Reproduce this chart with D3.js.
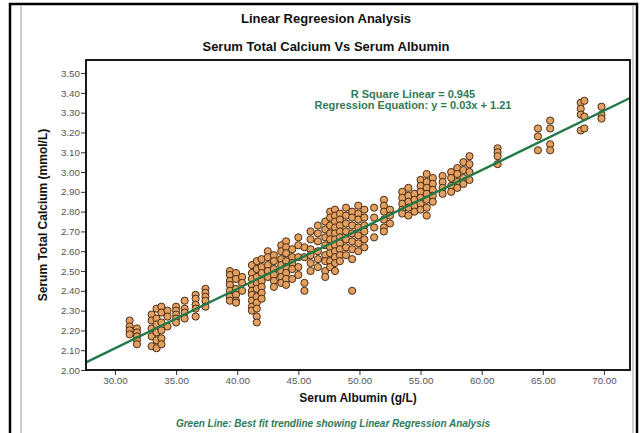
<!DOCTYPE html>
<html>
<head>
<meta charset="utf-8">
<script src="https://cdn.jsdelivr.net/npm/d3@7"></script>
<style>
  body { margin: 0; background: #fff; }
  svg { display: block; font-family: "Liberation Sans", Arial, sans-serif; }
  .title { font-size: 13px; font-weight: bold; fill: #111; }
  .axis-title { font-size: 12px; font-weight: bold; fill: #111; }
  .tick text { font-size: 9.8px; fill: #555; }
  .note { font-size: 11px; font-weight: bold; fill: #2f7a57; }
  .caption { font-size: 10px; font-weight: bold; font-style: italic; fill: #2f7a57; }
</style>
</head>
<body>
<div id="chart"></div>
<script>
// Serum calcium vs albumin scatter with a linear trendline.

const xTicks = [30, 35, 40, 45, 50, 55, 60, 65, 70];
const yTicks = [2.0, 2.1, 2.2, 2.3, 2.4, 2.5, 2.6, 2.7, 2.8, 2.9, 3.0, 3.1, 3.2, 3.3, 3.4, 3.5];

// regression shown on the chart: y = 0.03x + 1.21
const slope = 0.03;
const intercept = 1.21;
const rSquare = 0.945;

// [albumin g/L, calcium mmol/L]
const points = [
  [31.2, 2.25], [31.2, 2.22], [31.2, 2.20], [31.2, 2.18],
  [31.8, 2.21], [31.8, 2.19], [31.8, 2.17], [31.8, 2.15], [31.8, 2.13],
  [33.0, 2.28], [33.0, 2.25], [33.0, 2.21], [33.0, 2.17], [33.0, 2.12],
  [33.4, 2.31], [33.4, 2.26], [33.4, 2.23], [33.4, 2.19], [33.4, 2.15], [33.4, 2.11],
  [33.8, 2.32], [33.8, 2.29], [33.8, 2.24], [33.8, 2.20], [33.8, 2.16], [33.8, 2.13],
  [34.3, 2.30], [34.3, 2.27], [34.3, 2.22],
  [35.0, 2.32], [35.0, 2.30], [35.0, 2.28], [35.0, 2.26], [35.0, 2.24],
  [35.7, 2.35], [35.7, 2.31], [35.7, 2.29], [35.7, 2.26],
  [36.6, 2.38], [36.6, 2.36], [36.6, 2.33], [36.6, 2.31], [36.6, 2.27],
  [37.4, 2.41], [37.4, 2.39], [37.4, 2.37], [37.4, 2.35], [37.4, 2.32],
  [39.4, 2.50], [39.4, 2.48], [39.4, 2.45], [39.4, 2.43], [39.4, 2.40], [39.4, 2.37], [39.4, 2.35],
  [39.9, 2.49], [39.9, 2.46], [39.9, 2.41], [39.9, 2.38], [39.9, 2.35], [39.9, 2.34],
  [40.4, 2.47], [40.4, 2.44], [40.4, 2.40],
  [41.2, 2.53], [41.2, 2.49], [41.2, 2.46], [41.2, 2.43], [41.2, 2.40], [41.2, 2.38], [41.2, 2.35], [41.2, 2.32], [41.2, 2.30],
  [41.6, 2.55], [41.6, 2.51], [41.6, 2.47], [41.6, 2.44], [41.6, 2.41], [41.6, 2.37], [41.6, 2.34], [41.6, 2.31], [41.6, 2.27], [41.6, 2.24],
  [42.0, 2.56], [42.0, 2.52], [42.0, 2.49], [42.0, 2.45], [42.0, 2.42], [42.0, 2.39], [42.0, 2.36],
  [42.5, 2.60], [42.5, 2.57], [42.5, 2.53], [42.5, 2.50], [42.5, 2.47],
  [43.0, 2.58], [43.0, 2.55], [43.0, 2.51], [43.0, 2.48], [43.0, 2.45], [43.0, 2.42],
  [43.6, 2.63], [43.6, 2.60], [43.6, 2.56], [43.6, 2.53], [43.6, 2.50], [43.6, 2.47], [43.6, 2.44],
  [44.0, 2.65], [44.0, 2.62], [44.0, 2.59], [44.0, 2.55], [44.0, 2.52], [44.0, 2.49], [44.0, 2.46], [44.0, 2.43],
  [44.5, 2.61], [44.5, 2.57], [44.5, 2.54], [44.5, 2.51], [44.5, 2.46],
  [45.0, 2.67], [45.0, 2.63], [45.0, 2.57], [45.0, 2.52], [45.0, 2.48],
  [45.5, 2.62], [45.5, 2.57], [45.5, 2.44], [45.5, 2.40],
  [46.0, 2.70], [46.0, 2.66], [46.0, 2.61], [46.0, 2.58], [46.0, 2.54], [46.0, 2.50],
  [46.6, 2.73], [46.6, 2.69], [46.6, 2.65], [46.6, 2.60], [46.6, 2.56], [46.6, 2.52],
  [47.2, 2.75], [47.2, 2.71], [47.2, 2.67], [47.2, 2.63], [47.2, 2.58], [47.2, 2.55], [47.2, 2.50], [47.2, 2.47],
  [47.6, 2.80], [47.6, 2.77], [47.6, 2.73], [47.6, 2.69], [47.6, 2.66], [47.6, 2.62], [47.6, 2.59], [47.6, 2.55], [47.6, 2.52],
  [48.0, 2.81], [48.0, 2.78], [48.0, 2.75], [48.0, 2.72], [48.0, 2.69], [48.0, 2.66], [48.0, 2.63], [48.0, 2.60], [48.0, 2.57], [48.0, 2.54], [48.0, 2.50],
  [48.4, 2.79], [48.4, 2.76], [48.4, 2.73], [48.4, 2.70], [48.4, 2.67], [48.4, 2.64], [48.4, 2.61], [48.4, 2.58], [48.4, 2.55],
  [48.9, 2.82], [48.9, 2.78], [48.9, 2.74], [48.9, 2.70], [48.9, 2.66], [48.9, 2.62], [48.9, 2.58],
  [49.4, 2.80], [49.4, 2.77], [49.4, 2.73], [49.4, 2.69], [49.4, 2.65], [49.4, 2.61], [49.4, 2.56], [49.4, 2.40],
  [49.9, 2.83], [49.9, 2.79], [49.9, 2.76], [49.9, 2.72], [49.9, 2.68], [49.9, 2.64], [49.9, 2.60],
  [50.4, 2.81], [50.4, 2.77], [50.4, 2.73], [50.4, 2.70], [50.4, 2.66], [50.4, 2.62],
  [51.2, 2.82], [51.2, 2.77], [51.2, 2.72], [51.2, 2.67],
  [52.0, 2.86], [52.0, 2.83], [52.0, 2.80], [52.0, 2.76], [52.0, 2.72], [52.0, 2.70],
  [52.5, 2.81], [52.5, 2.78], [52.5, 2.74],
  [53.5, 2.90], [53.5, 2.87], [53.5, 2.84], [53.5, 2.81], [53.5, 2.79],
  [54.0, 2.92], [54.0, 2.88], [54.0, 2.85], [54.0, 2.82], [54.0, 2.78],
  [54.5, 2.89], [54.5, 2.86], [54.5, 2.83], [54.5, 2.80],
  [55.0, 2.96], [55.0, 2.93], [55.0, 2.90], [55.0, 2.87], [55.0, 2.84], [55.0, 2.81],
  [55.5, 2.99], [55.5, 2.95], [55.5, 2.92], [55.5, 2.89], [55.5, 2.86], [55.5, 2.82], [55.5, 2.78],
  [56.0, 2.97], [56.0, 2.94], [56.0, 2.91], [56.0, 2.88], [56.0, 2.85],
  [56.8, 2.98], [56.8, 2.95], [56.8, 2.92], [56.8, 2.89],
  [57.5, 3.00], [57.5, 2.97], [57.5, 2.93], [57.5, 2.90],
  [58.0, 3.02], [58.0, 2.99], [58.0, 2.95], [58.0, 2.92],
  [58.5, 3.05], [58.5, 3.01], [58.5, 2.97], [58.5, 2.94],
  [59.0, 3.08], [59.0, 3.04], [59.0, 3.00], [59.0, 2.96],
  [61.3, 3.12], [61.3, 3.10], [61.3, 3.08], [61.3, 3.04],
  [64.6, 3.22], [64.6, 3.18], [64.6, 3.11],
  [65.6, 3.26], [65.6, 3.22], [65.6, 3.14], [65.6, 3.11],
  [68.1, 3.35], [68.1, 3.32], [68.1, 3.29], [68.1, 3.21],
  [68.4, 3.36], [68.4, 3.28], [68.4, 3.22],
  [69.8, 3.33], [69.8, 3.29], [69.8, 3.27]
];

const width = 640;
const height = 433;
const plot = { left: 86, right: 630, top: 60, bottom: 370 };

const svg = d3.select("#chart")
  .append("svg")
  .attr("width", width)
  .attr("height", height);

// outer frame of the exported figure
svg.append("rect")
  .attr("x", 10).attr("y", 4)
  .attr("width", 627).attr("height", 450)
  .attr("fill", "none")
  .attr("stroke", "#000")
  .attr("stroke-width", 2.5);

svg.append("line")
  .attr("x1", 21).attr("x2", 21).attr("y1", 5).attr("y2", height)
  .attr("stroke", "#bbb").attr("stroke-width", 1.5);

svg.append("line")
  .attr("x1", 633).attr("x2", 633).attr("y1", 5).attr("y2", height)
  .attr("stroke", "#bbb").attr("stroke-width", 1.5);

const x = d3.scaleLinear()
  .domain([27.63, 72.13])
  .range([plot.left, plot.right]);

const y = d3.scaleLinear()
  .domain([2.0, 3.566])
  .range([plot.bottom, plot.top]);

svg.append("g")
  .attr("transform", `translate(0, ${plot.bottom})`)
  .call(d3.axisBottom(x).tickValues(xTicks).tickFormat(d3.format(".2f")).tickSize(5).tickSizeOuter(0))
  .call(g => g.select(".domain").remove())
  .call(g => g.selectAll(".tick line").attr("stroke", "#333"))
  .call(g => g.selectAll(".tick text").attr("y", 7));

svg.append("g")
  .attr("transform", `translate(${plot.left}, 0)`)
  .call(d3.axisLeft(y).tickValues(yTicks).tickFormat(d3.format(".2f")).tickSize(5).tickSizeOuter(0))
  .call(g => g.select(".domain").remove())
  .call(g => g.selectAll(".tick line").attr("stroke", "#333"))
  .call(g => g.selectAll(".tick text").attr("x", -6));

// points go under the line, line under the frame
svg.append("g")
  .selectAll("circle")
  .data(points)
  .join("circle")
  .attr("cx", d => x(d[0]))
  .attr("cy", d => y(d[1]))
  .attr("r", 3.6)
  .attr("fill", "#e3a060")
  .attr("stroke", "#4a2c12")
  .attr("stroke-width", 1);

const xDom = x.domain();
svg.append("line")
  .attr("x1", x(xDom[0])).attr("y1", y(slope * xDom[0] + intercept))
  .attr("x2", x(xDom[1])).attr("y2", y(slope * xDom[1] + intercept))
  .attr("stroke", "#237a48")
  .attr("stroke-width", 2.4);

svg.append("rect")
  .attr("x", plot.left).attr("y", plot.top)
  .attr("width", plot.right - plot.left)
  .attr("height", plot.bottom - plot.top)
  .attr("fill", "none")
  .attr("stroke", "#000")
  .attr("stroke-width", 1.8);

svg.append("text").attr("class", "title")
  .attr("x", 326).attr("y", 23).attr("text-anchor", "middle")
  .text("Linear Regreesion Analysis");

svg.append("text").attr("class", "title")
  .attr("x", 326).attr("y", 51).attr("text-anchor", "middle")
  .text("Serum Total Calcium Vs Serum Albumin");

svg.append("text").attr("class", "note")
  .attr("x", 413).attr("y", 98).attr("text-anchor", "middle")
  .text(`R Square Linear = ${rSquare}`);

svg.append("text").attr("class", "note")
  .attr("x", 413).attr("y", 109).attr("text-anchor", "middle")
  .text(`Regression Equation: y = ${slope}x + ${intercept}`);

svg.append("text").attr("class", "axis-title")
  .attr("transform", `translate(47, ${(plot.top + plot.bottom) / 2}) rotate(-90)`)
  .attr("text-anchor", "middle")
  .text("Serum Total Calcium (mmol/L)");

svg.append("text").attr("class", "axis-title")
  .attr("x", 358).attr("y", 402).attr("text-anchor", "middle")
  .text("Serum Albumin (g/L)");

svg.append("text").attr("class", "caption")
  .attr("x", 333).attr("y", 427).attr("text-anchor", "middle")
  .text("Green Line: Best fit trendline showing Linear Regression Analysis");
</script>
</body>
</html>
